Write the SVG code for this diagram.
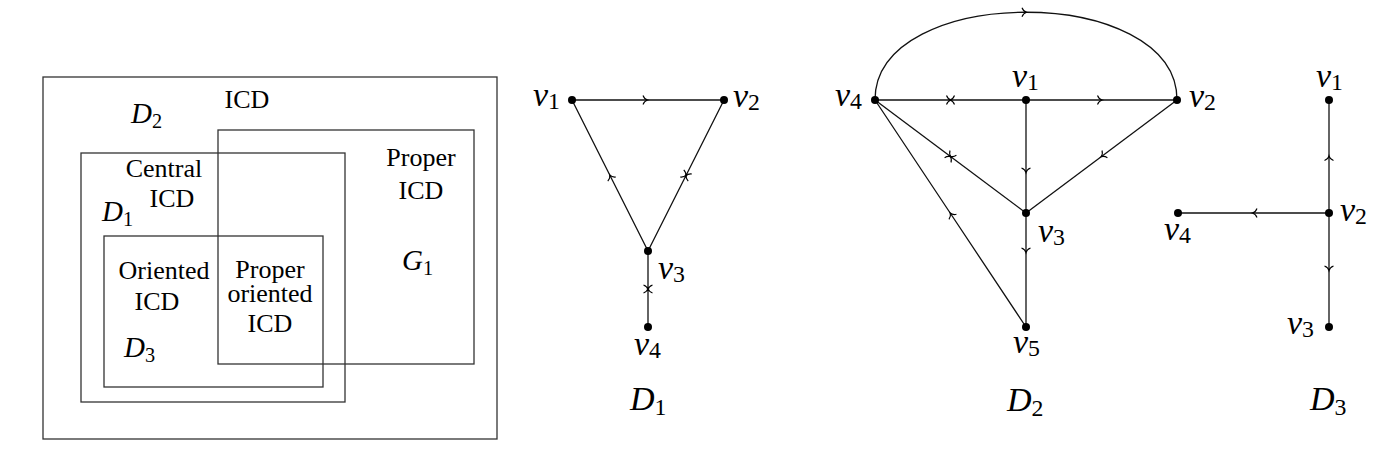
<svg xmlns="http://www.w3.org/2000/svg" width="1398" height="451" viewBox="0 0 1398 451">
<style>
.set{fill:none;stroke:#333;stroke-width:1.3}
.t{font-family:"Liberation Serif","Times New Roman",serif;font-size:26px;fill:#000;text-anchor:middle}
.m{font-family:"Liberation Serif","Times New Roman",serif;font-size:34px;fill:#000}
.mv{font-family:"Liberation Serif","Times New Roman",serif;font-size:29px;fill:#000}
.i{font-style:italic}
.s{font-size:70%;font-style:normal}
.ea{fill:none;stroke:#111;stroke-width:1.3;marker-mid:url(#ar)}
.ex{fill:none;stroke:#111;stroke-width:1.3;marker-mid:url(#xx)}
.dot{fill:#000}
</style>
<defs>
<marker id="ar" markerUnits="userSpaceOnUse" markerWidth="14" markerHeight="14" viewBox="-7 -7 14 14" refX="0" refY="0" orient="auto" overflow="visible">
<path d="M-4,-4.5 C-3,-1.8 -0.9,-0.4 0.6,0 C-0.9,0.4 -3,1.8 -4,4.5" fill="none" stroke="#000" stroke-width="1.1"/>
</marker>
<marker id="xx" markerUnits="userSpaceOnUse" markerWidth="14" markerHeight="14" viewBox="-7 -7 14 14" refX="0" refY="0" orient="auto" overflow="visible">
<path d="M-4,-4.5 C-3,-1.8 -0.9,-0.4 0.6,0 C-0.9,0.4 -3,1.8 -4,4.5 M4,-4.5 C3,-1.8 0.9,-0.4 -0.6,0 C0.9,0.4 3,1.8 4,4.5" fill="none" stroke="#000" stroke-width="1.1"/>
</marker>
</defs>

<!-- Venn-like class diagram -->
<g id="set-icd">
<rect class="set" x="43" y="77" width="454" height="362"/>
<text class="t" x="247" y="108">ICD</text>
</g>
<g id="set-proper">
<rect class="set" x="218" y="130" width="256" height="234"/>
<text class="t" x="421" y="166">Proper</text>
<text class="t" x="421" y="199">ICD</text>
</g>
<g id="set-central">
<rect class="set" x="81" y="153" width="264" height="249"/>
<text class="t" x="164" y="177">Central</text>
<text class="t" x="172" y="207">ICD</text>
</g>
<g id="set-oriented">
<rect class="set" x="104" y="236" width="219" height="151"/>
<text class="t" x="164" y="279">Oriented</text>
<text class="t" x="157" y="310">ICD</text>
</g>
<g id="set-proper-oriented">
<text class="t" x="270" y="278">Proper</text>
<text class="t" x="270" y="302">oriented</text>
<text class="t" x="270" y="332">ICD</text>
</g>
<g id="venn-labels">
<text class="mv" x="131" y="123"><tspan class="i">D</tspan><tspan class="s" dy="5">2</tspan></text>
<text class="mv" x="102" y="221"><tspan class="i">D</tspan><tspan class="s" dy="5">1</tspan></text>
<text class="mv" x="124" y="357"><tspan class="i">D</tspan><tspan class="s" dy="5">3</tspan></text>
<text class="mv" x="402" y="270"><tspan class="i">G</tspan><tspan class="s" dy="5">1</tspan></text>
</g>

<!-- connectors -->
<g id="connectors">
<!-- D1 -->
<path class="ea" d="M572,100 L647,100 L724,100"/>
<path class="ea" d="M648,251 L610,175.5 L572,100"/>
<path class="ex" d="M648,251 L686,175.5 L724,100"/>
<path class="ex" d="M648,251 L648,289 L648,327"/>
<!-- D2 -->
<path class="ea" d="M875,100 C875,41.5 950.5,12.25 1026,12.25 C1101.5,12.25 1177,41.5 1177,100"/>
<path class="ex" d="M875,100 L950.5,100 L1026,100"/>
<path class="ea" d="M1026,100 L1101.5,100 L1177,100"/>
<path class="ea" d="M1026,100 L1026,172 L1026,213"/>
<path class="ea" d="M1177,100 L1101.5,156.5 L1026,213"/>
<path class="ex" d="M875,100 L950.5,156.5 L1026,213"/>
<path class="ea" d="M1026,213 L1026,252 L1026,327"/>
<path class="ea" d="M1026,327 L950.5,213.5 L875,100"/>
<!-- D3 -->
<path class="ea" d="M1329,213 L1329,156.5 L1329,100"/>
<path class="ea" d="M1329,213 L1253,213 L1178,213"/>
<path class="ea" d="M1329,213 L1329,270 L1329,327"/>
</g>

<!-- D1 nodes -->
<g id="D1-v1"><circle class="dot" cx="572" cy="100" r="4"/><text class="m" x="533" y="106"><tspan class="i">v</tspan><tspan class="s" dy="3">1</tspan></text></g>
<g id="D1-v2"><circle class="dot" cx="724" cy="100" r="4"/><text class="m" x="733" y="107"><tspan class="i">v</tspan><tspan class="s" dy="3">2</tspan></text></g>
<g id="D1-v3"><circle class="dot" cx="648" cy="251" r="4"/><text class="m" x="658" y="279"><tspan class="i">v</tspan><tspan class="s" dy="3">3</tspan></text></g>
<g id="D1-v4"><circle class="dot" cx="648" cy="327" r="4"/><text class="m" x="634" y="355"><tspan class="i">v</tspan><tspan class="s" dy="3">4</tspan></text></g>
<g id="D1-label"><text class="m" x="630" y="410"><tspan class="i">D</tspan><tspan class="s" dy="5">1</tspan></text></g>

<!-- D2 nodes -->
<g id="D2-v1"><circle class="dot" cx="1026" cy="100" r="4"/><text class="m" x="1012" y="87"><tspan class="i">v</tspan><tspan class="s" dy="3">1</tspan></text></g>
<g id="D2-v2"><circle class="dot" cx="1177" cy="100" r="4"/><text class="m" x="1189" y="107"><tspan class="i">v</tspan><tspan class="s" dy="3">2</tspan></text></g>
<g id="D2-v3"><circle class="dot" cx="1026" cy="213" r="4"/><text class="m" x="1038" y="242"><tspan class="i">v</tspan><tspan class="s" dy="3">3</tspan></text></g>
<g id="D2-v4"><circle class="dot" cx="875" cy="100" r="4"/><text class="m" x="835" y="106"><tspan class="i">v</tspan><tspan class="s" dy="3">4</tspan></text></g>
<g id="D2-v5"><circle class="dot" cx="1026" cy="327" r="4"/><text class="m" x="1013" y="353"><tspan class="i">v</tspan><tspan class="s" dy="3">5</tspan></text></g>
<g id="D2-label"><text class="m" x="1007" y="411"><tspan class="i">D</tspan><tspan class="s" dy="5">2</tspan></text></g>

<!-- D3 nodes -->
<g id="D3-v1"><circle class="dot" cx="1329" cy="100" r="4"/><text class="m" x="1316" y="87"><tspan class="i">v</tspan><tspan class="s" dy="3">1</tspan></text></g>
<g id="D3-v2"><circle class="dot" cx="1329" cy="213" r="4"/><text class="m" x="1340" y="221"><tspan class="i">v</tspan><tspan class="s" dy="3">2</tspan></text></g>
<g id="D3-v3"><circle class="dot" cx="1329" cy="327" r="4"/><text class="m" x="1287" y="334"><tspan class="i">v</tspan><tspan class="s" dy="3">3</tspan></text></g>
<g id="D3-v4"><circle class="dot" cx="1178" cy="213" r="4"/><text class="m" x="1164" y="240"><tspan class="i">v</tspan><tspan class="s" dy="3">4</tspan></text></g>
<g id="D3-label"><text class="m" x="1310" y="410"><tspan class="i">D</tspan><tspan class="s" dy="5">3</tspan></text></g>
</svg>
